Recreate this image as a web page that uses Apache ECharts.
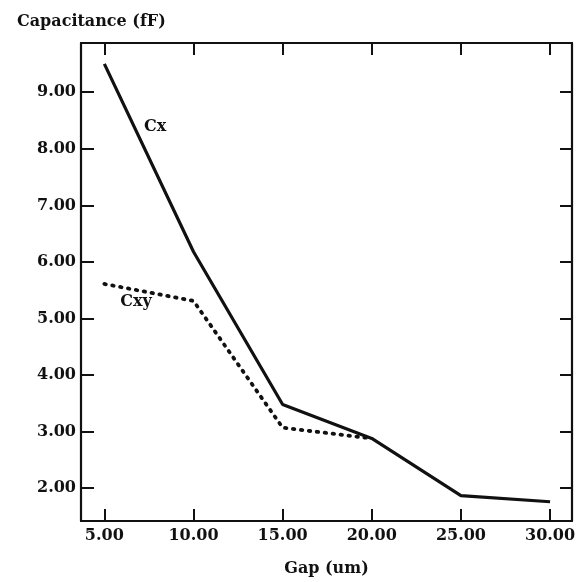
<!DOCTYPE html>
<html>
<head>
<meta charset="utf-8">
<script src="https://cdn.jsdelivr.net/npm/echarts@6/dist/echarts.min.js"></script>
<style>
    html, body { margin: 0; padding: 0; background: #fff; }
    #main { width: 581px; height: 582px; }
</style>
</head>
<body>
<div id="main"></div>
<script>
// 数据
let gap = [5, 10, 15, 20, 25, 30];
let cx = [9.5, 6.18, 3.48, 2.88, 1.87, 1.76];
let cxy = [5.61, 5.31, 3.07, 2.88];
let xTicks = [5, 10, 15, 20, 25, 30];
let yTicks = [2, 3, 4, 5, 6, 7, 8, 9];

let font = 'DejaVu Serif';
let ink = '#111';

function pairs(xs, ys) {
    return ys.map(function (v, i) { return [xs[i], v]; });
}

let myChart = echarts.init(document.getElementById('main'), null, { renderer: 'canvas' });

// 坐标轴公共样式
let axisLine = { show: true, onZero: false, lineStyle: { color: ink, width: 2.2 } };
let tickStyle = { color: ink, width: 2 };

let option = {
    animation: false,
    backgroundColor: '#fff',
    title: {
        text: 'Capacitance (fF)',
        left: 12,
        top: 9,
        textStyle: { fontFamily: font, fontWeight: 'bold', fontSize: 16, color: ink }
    },
    grid: { left: 81, right: 9, top: 43, bottom: 58, containLabel: false },
    xAxis: [{
        type: 'value',
        min: 3.69,
        max: 31.23,
        name: 'Gap (um)',
        nameLocation: 'middle',
        nameGap: 40,
        nameTextStyle: { fontFamily: font, fontWeight: 'bold', fontSize: 16, color: ink },
        axisLine: axisLine,
        splitLine: { show: false },
        axisTick: { show: true, inside: true, length: 12, lineStyle: tickStyle, customValues: xTicks },
        axisLabel: {
            customValues: xTicks,
            margin: 7,
            fontFamily: font, fontWeight: 'bold', fontSize: 16, color: ink,
            formatter: function (v) { return v.toFixed(2); }
        }
    }, {
        type: 'value',
        position: 'top',
        min: 3.69,
        max: 31.23,
        axisLine: axisLine,
        splitLine: { show: false },
        axisTick: { show: true, inside: true, length: 12, lineStyle: tickStyle, customValues: xTicks },
        axisLabel: { show: false }
    }],
    yAxis: [{
        type: 'value',
        min: 1.42,
        max: 9.87,
        axisLine: axisLine,
        splitLine: { show: false },
        axisTick: { show: true, inside: true, length: 13, lineStyle: tickStyle, customValues: yTicks },
        axisLabel: {
            customValues: yTicks,
            margin: 5,
            fontFamily: font, fontWeight: 'bold', fontSize: 16, color: ink,
            formatter: function (v) { return v.toFixed(2); }
        }
    }, {
        type: 'value',
        position: 'right',
        min: 1.42,
        max: 9.87,
        axisLine: axisLine,
        splitLine: { show: false },
        axisTick: { show: true, inside: true, length: 12, lineStyle: tickStyle, customValues: yTicks },
        axisLabel: { show: false }
    }],
    series: [{
        name: 'Cx',
        type: 'line',
        data: pairs(gap, cx),
        symbol: 'none',
        lineStyle: { color: ink, width: 3.2, type: 'solid' },
        markPoint: {
            symbol: 'circle',
            symbolSize: 0,
            label: {
                show: true, position: 'inside', formatter: 'Cx',
                fontFamily: font, fontWeight: 'bold', fontSize: 16, color: ink
            },
            data: [{ coord: [7.85, 8.38] }]
        }
    }, {
        name: 'Cxy',
        type: 'line',
        data: pairs(gap, cxy),
        symbol: 'none',
        lineStyle: { color: ink, width: 3.8, type: [1.5, 6.5], cap: 'round' },
        markPoint: {
            symbol: 'circle',
            symbolSize: 0,
            label: {
                show: true, position: 'inside', formatter: 'Cxy',
                fontFamily: font, fontWeight: 'bold', fontSize: 16, color: ink
            },
            data: [{ coord: [6.78, 5.29] }]
        }
    }]
};
myChart.setOption(option);
</script>
</body>
</html>
